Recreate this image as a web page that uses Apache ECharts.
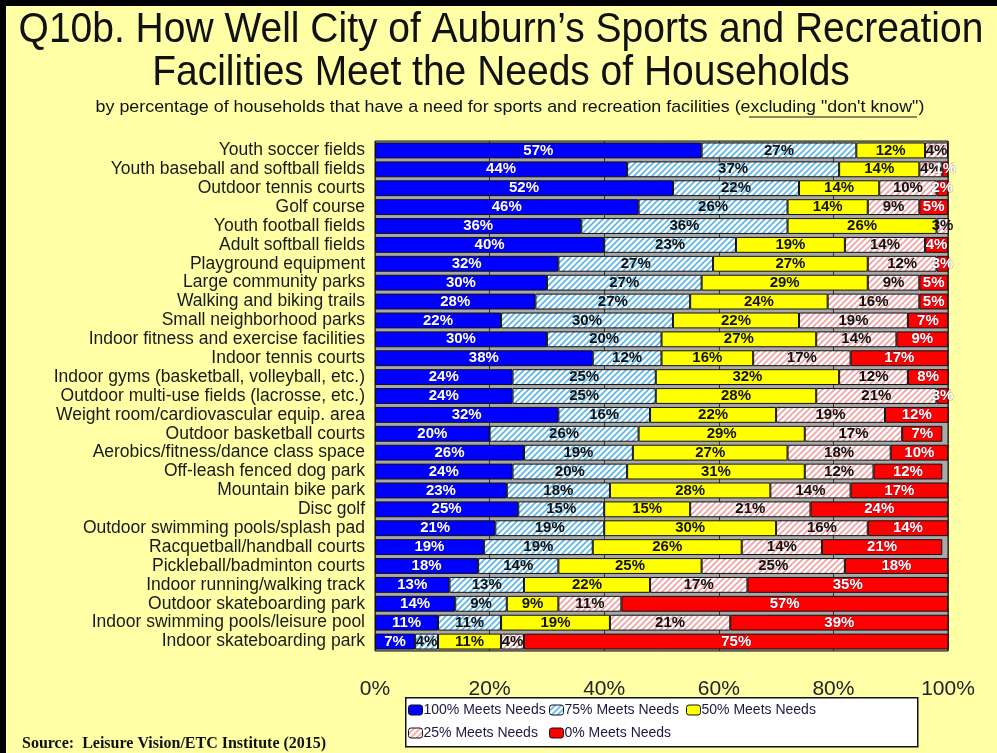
<!DOCTYPE html>
<html><head><meta charset="utf-8">
<script src="https://cdn.jsdelivr.net/npm/echarts@6/dist/echarts.min.js"></script>
<style>html,body{margin:0;padding:0;background:#ffffa6;}#c{width:997px;height:753px;}</style>
</head><body><div id="c"></div>
<script>
const categories = [
 "Youth soccer fields","Youth baseball and softball fields","Outdoor tennis courts","Golf course",
 "Youth football fields","Adult softball fields","Playground equipment","Large community parks",
 "Walking and biking trails","Small neighborhood parks","Indoor fitness and exercise facilities",
 "Indoor tennis courts","Indoor gyms (basketball, volleyball, etc.)","Outdoor multi-use fields (lacrosse, etc.)",
 "Weight room/cardiovascular equip. area","Outdoor basketball courts","Aerobics/fitness/dance class space",
 "Off-leash fenced dog park","Mountain bike park","Disc golf","Outdoor swimming pools/splash pad",
 "Racquetball/handball courts","Pickleball/badminton courts","Indoor running/walking track",
 "Outdoor skateboarding park","Indoor swimming pools/leisure pool","Indoor skateboarding park"];
const meets100 = [57,44,52,46,36,40,32,30,28,22,30,38,24,24,32,20,26,24,23,25,21,19,18,13,14,11,7];
const meets75  = [27,37,22,26,36,23,27,27,27,30,20,12,25,25,16,26,19,20,18,15,19,19,14,13,9,11,4];
const meets50  = [12,14,14,14,26,19,27,29,24,22,27,16,32,28,22,29,27,31,28,15,30,26,25,22,9,19,11];
const meets25  = [4,4,10,9,3,14,12,9,16,19,14,17,12,21,19,17,18,12,14,21,16,14,25,17,11,21,4];
const meets0   = [1,1,2,5,0,4,3,5,5,7,9,17,8,3,12,7,10,12,17,24,14,21,18,35,57,39,75];
const seriesNames = ["100% Meets Needs","75% Meets Needs","50% Meets Needs","25% Meets Needs","0% Meets Needs"];
const xTicks = [0,20,40,60,80,100];

function stripe(bg, fg){
  const c = document.createElement('canvas'); c.width = 6; c.height = 6;
  const g = c.getContext('2d');
  g.fillStyle = bg; g.fillRect(0,0,6,6);
  g.strokeStyle = fg; g.lineWidth = 1.6;
  g.beginPath();
  g.moveTo(-1,7); g.lineTo(7,-1);
  g.moveTo(-1,1); g.lineTo(1,-1);
  g.moveTo(5,7); g.lineTo(7,5);
  g.stroke();
  return {image: c, repeat: 'repeat'};
}
const blueStripe = stripe('#ffffff', '#5ab4e8');
const pinkStripe = stripe('#ffffff', '#f2a0a0');

const fills = ['#0000ff', blueStripe, '#ffff00', pinkStripe, '#ff0000'];
const labelColors = ['#ffffff','#111111','#111111','#111111','#ffffff'];
const dataSets = [meets100, meets75, meets50, meets25, meets0];
const SF = "'Liberation Sans',Arial,sans-serif";

const series = dataSets.map((d,i)=>({
  name: seriesNames[i], type:'bar', stack:'all', barCategoryGap:'16%',
  data: d,
  itemStyle:{color: fills[i], borderColor:'#111', borderWidth:1},
  label:{show:true, position:'inside', formatter: p => p.value > 0 ? p.value + '%' : '',
    color: labelColors[i], fontFamily: SF, fontWeight:'bold', fontSize: 15,
    textBorderColor: i===0||i===4 ? 'rgba(0,0,60,0.35)' : 'transparent', textBorderWidth: i===0||i===4?1:0},
  emphasis:{disabled:true}
}));

const legendPos = [[408,703],[549,703],[686,703],[408,726],[549,726]];
const legends = seriesNames.map((n,i)=>({
  data:[{name:n, itemStyle:{color: fills[i], borderColor:'#111', borderWidth:1}}],
  left: legendPos[i][0], top: legendPos[i][1], itemWidth:14, itemHeight:10, itemGap:2,
  textStyle:{fontFamily:SF, fontSize:14, color:'#1a1a40', padding:[0,0,0,-4]},
  selectedMode:false, padding:0
}));

const chart = echarts.init(document.getElementById('c'), null, {renderer:'canvas'});
chart.setOption({
  backgroundColor:'#ffffa6',
  animation:false,
  grid:{left:375, right:49, top:141, bottom:102, show:true, backgroundColor:'#a8a8a8', borderColor:'#111', borderWidth:1},
  xAxis:{type:'value', min:0, max:100, interval:20,
    axisLabel:{formatter: v => xTicks.includes(v) ? v + '%' : '', fontSize:21, color:'#222', margin:28, fontFamily:SF},
    axisLine:{show:false}, axisTick:{show:false},
    splitLine:{show:true, lineStyle:{color:'#333', width:1}}},
  yAxis:{type:'category', data:categories, inverse:true,
    axisLabel:{interval:0, fontSize:17.5, color:'#1a1a1a', margin:10, fontFamily:SF},
    axisLine:{show:false}, axisTick:{show:false}},
  legend: legends,
  graphic:[
    {type:'rect', left:0, top:0, shape:{width:997, height:753}, style:{fill:'none', stroke:'#000', lineWidth:6}, z:100, silent:true},
    {type:'rect', left:405, top:697, shape:{width:512, height:49}, style:{fill:'#ffffff', stroke:'#111', lineWidth:1.5}, z:-1, silent:true},
    {type:'text', x:501, y:30, scaleX:0.928, style:{text:"Q10b. How Well City of Auburn\u2019s Sports and Recreation", font:"42px "+SF, fill:'#111', textAlign:'center', textVerticalAlign:'middle'}},
    {type:'text', x:501, y:73, scaleX:0.928, style:{text:"Facilities Meet the Needs of Households", font:"42px "+SF, fill:'#111', textAlign:'center', textVerticalAlign:'middle'}},
    {type:'text', x:510, y:107, scaleX:1.05, style:{
      text:"by percentage of households that have a need for sports and recreation facilities (excluding \"don't know\")",
      font:"17px "+SF, fill:'#111', textAlign:'center', textVerticalAlign:'middle'}},
    {type:'line', shape:{x1:749, y1:117, x2:917, y2:117}, style:{stroke:'#111', lineWidth:1}},
    {type:'text', left:22, top:736, style:{text:"Source:  Leisure Vision/ETC Institute (2015)", font:"bold 16px 'Liberation Serif','Times New Roman',serif", fill:'#111'}}
  ],
  series: series
});
</script></body></html>
